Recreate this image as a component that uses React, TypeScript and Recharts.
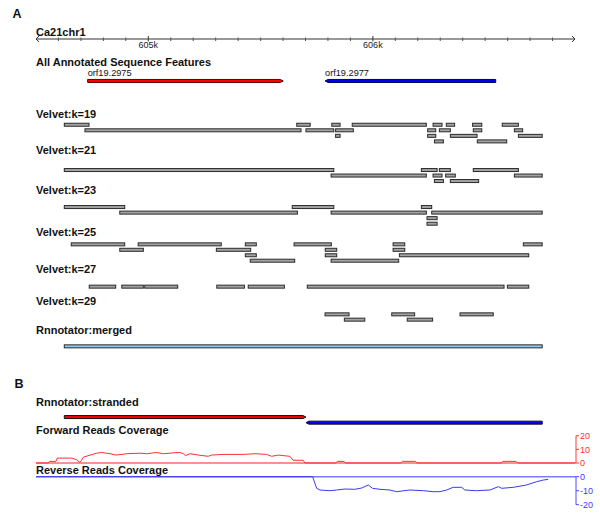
import React from 'react';
import { ComposedChart, Bar, XAxis, YAxis, LineChart, Line, ReferenceLine } from 'recharts';

// ---------- data ----------
const DOMAIN_START = 604500;
const DOMAIN_END = 606900;
const COV_DOMAIN_END = 606905;

const rulerTicks = [
  604500, 604600, 604700, 604800, 604900, 605000, 605100, 605200, 605300, 605400, 605500,
  605600, 605700, 605800, 605900, 606000, 606100, 606200, 606300, 606400, 606500, 606600,
  606700, 606800, 606900,
];
const rulerLabels: Record<number, string> = { 605000: '605k', 606000: '606k' };

const genes = [
  { name: 'orf19.2975', strand: '+', start: 604730, end: 605601 },
  { name: 'orf19.2977', strand: '-', start: 605787, end: 606547 },
];

// [lane, start, end]
const velvetK19 = [
  [0, 604626, 604736], [0, 605661, 605721], [0, 605817, 605854], [0, 605908, 606238],
  [0, 606268, 606308], [0, 606327, 606364], [0, 606444, 606485], [0, 606576, 606648],
  [1, 604718, 605680], [1, 605702, 605826], [1, 605834, 605913], [1, 606244, 606280],
  [1, 606296, 606345], [1, 606447, 606485], [1, 606630, 606667],
  [2, 605834, 605854], [2, 606244, 606280], [2, 606345, 606464], [2, 606648, 606754],
  [3, 606274, 606314], [3, 606465, 606596],
];
const velvetK21 = [
  [0, 604626, 605826], [0, 606216, 606286], [0, 606296, 606345], [0, 606447, 606648],
  [1, 605814, 606238], [1, 606268, 606308], [1, 606324, 606367], [1, 606630, 606754],
  [2, 606274, 606314], [2, 606345, 606471],
];
const velvetK23 = [
  [0, 604626, 604895], [0, 605641, 605826], [0, 606216, 606262],
  [1, 604873, 605664], [1, 605814, 606238], [1, 606262, 606754],
  [2, 606241, 606286], [3, 606241, 606286],
];
const velvetK25 = [
  [0, 604657, 604895], [0, 604955, 605325], [0, 605432, 605481], [0, 605649, 605815],
  [0, 606090, 606142], [0, 606670, 606754],
  [1, 604873, 604978], [1, 605303, 605456], [1, 605788, 605839], [1, 606090, 606142],
  [2, 605432, 605481], [2, 605788, 605839], [2, 606118, 606694],
  [3, 605454, 605652], [3, 605814, 606115],
];
const velvetK27 = [
  [0, 604737, 604855], [0, 604882, 604978], [0, 604984, 605131], [0, 605305, 605428],
  [0, 605445, 605606], [0, 605708, 606584], [0, 606599, 606694],
];
const velvetK29 = [
  [0, 605787, 605894], [0, 606084, 606186], [0, 606388, 606536],
  [1, 605873, 605964], [1, 606153, 606266],
];
const rnnotatorMerged = [[0, 604626, 606754]];
const rnnotatorStranded = [
  { strand: '+', start: 604626, end: 605702 },
  { strand: '-', start: 605702, end: 606754 },
];

// [position, coverage]
const forwardCoverage = [
  [604500, 0], [604555, 0], [604560, 1.2], [604589, 1.2], [604595, 3.6], [604659, 3.6],
  [604681, 2.4], [604696, 0.3], [604711, 4.3], [604770, 7.2], [604793, 7.7], [604830, 6.8],
  [604856, 5.8], [604904, 6.8], [604963, 7.2], [604993, 6.8], [605037, 7.7], [605067, 6.8],
  [605097, 7.2], [605111, 7.5], [605141, 7.7], [605156, 6.8], [605166, 5.4], [605186, 6.8],
  [605223, 5.8], [605267, 4.9], [605282, 5.8], [605333, 6.3], [605422, 6.3], [605475, 6.8],
  [605527, 6.3], [605549, 4.9], [605579, 5.8], [605631, 4.9], [605645, 2.0], [605690, 2.0],
  [605698, 0], [605835, 0], [605842, 1.2], [605872, 1.2], [605878, 0], [606124, 0],
  [606132, 1.2], [606190, 1.2], [606197, 0], [606572, 0], [606580, 1.2], [606638, 1.2],
  [606645, 0], [606900, 0],
];
const reverseCoverage = [
  [604500, 0], [605732, 0], [605750, -8.3], [605765, -9.5], [605809, -10], [605839, -9.5],
  [605876, -8.8], [605920, -9.0], [605950, -8.1], [605980, -5.9], [605999, -8.3], [606032, -9.0],
  [606076, -9.5], [606106, -10.7], [606165, -9.5], [606225, -10], [606269, -10.7], [606299, -10.7],
  [606329, -9.5], [606358, -7.6], [606396, -7.6], [606410, -9.5], [606462, -10], [606522, -9.5],
  [606559, -7.1], [606574, -8.3], [606625, -7.6], [606685, -5.9], [606729, -3.6], [606759, -2.4],
  [606781, -1.9],
];

// ---------- layout (pixel rows of the tracks) ----------
const FONT = '"Liberation Sans", Arial, Helvetica, sans-serif';
const TRACKS = [
  { label: 'All Annotated Sequence Features', labelY: 66, laneY: 80.6, gap: 0 },
  { label: 'Velvet:k=19', labelY: 118.3, laneY: 124.4, gap: 5.55 },
  { label: 'Velvet:k=21', labelY: 154, laneY: 169.7, gap: 5.5 },
  { label: 'Velvet:k=23', labelY: 194, laneY: 206.7, gap: 5.55 },
  { label: 'Velvet:k=25', labelY: 236, laneY: 244.0, gap: 5.45 },
  { label: 'Velvet:k=27', labelY: 273.3, laneY: 286.3, gap: 5.5 },
  { label: 'Velvet:k=29', labelY: 305, laneY: 314.0, gap: 5.3 },
  { label: 'Rnnotator:merged', labelY: 334, laneY: 346.0, gap: 0 },
  { label: 'Rnnotator:stranded', labelY: 405.7, laneY: 416.7, gap: 5.6 },
];
const OTHER_LABELS = [
  { text: 'Ca21chr1', y: 35.5 },
  { text: 'Forward Reads Coverage', y: 434.3 },
  { text: 'Reverse Reads Coverage', y: 474.3 },
];

type Row = { y: number; range: [number, number]; kind: string; strand?: string; name?: string };

const rows: Row[] = [];
genes.forEach((g) =>
  rows.push({ y: TRACKS[0].laneY, range: [g.start, g.end], kind: 'gene', strand: g.strand, name: g.name })
);
[velvetK19, velvetK21, velvetK23, velvetK25, velvetK27, velvetK29].forEach((list, i) => {
  const t = TRACKS[i + 1];
  list.forEach(([lane, s, e]) => rows.push({ y: t.laneY + lane * t.gap, range: [s, e], kind: 'velvet' }));
});
rnnotatorMerged.forEach(([lane, s, e]) =>
  rows.push({ y: TRACKS[7].laneY + lane * TRACKS[7].gap, range: [s, e], kind: 'merged' })
);
rnnotatorStranded.forEach((f, i) =>
  rows.push({ y: TRACKS[8].laneY + i * TRACKS[8].gap, range: [f.start, f.end], kind: 'stranded', strand: f.strand })
);

const fwdData = forwardCoverage.map(([pos, v]) => ({ pos, v }));
const revData = reverseCoverage.map(([pos, v]) => ({ pos, v }));

// ---------- shapes ----------
const FeatureShape = (props: any) => {
  const { x, y, width, height, payload } = props;
  if (width == null || !payload) return null;
  const top = y + 0.5;
  const h = height - 1;
  const kind = payload.kind;
  if (kind === 'velvet' || kind === 'merged') {
    return (
      <rect
        x={x}
        y={top}
        width={width}
        height={h}
        fill={kind === 'velvet' ? '#a3a3a3' : '#8ccaf2'}
        stroke="#2a2a2a"
        strokeWidth={1}
      />
    );
  }
  const a = 3;
  const plus = payload.strand === '+';
  const fill = plus ? '#ff0000' : '#0000f0';
  const stroke = kind === 'gene' ? (plus ? '#5a0000' : '#00005a') : '#111';
  const pts = plus
    ? `${x},${top} ${x + width - a},${top} ${x + width},${top + h / 2} ${x + width - a},${top + h} ${x},${top + h}`
    : `${x + a},${top} ${x + width},${top} ${x + width},${top + h} ${x + a},${top + h} ${x},${top + h / 2}`;
  return (
    <g>
      <polygon points={pts} fill={fill} stroke={stroke} strokeWidth={1} />
      {payload.name ? (
        <text x={x} y={top - 3.5} fontSize={9.2} fontFamily={FONT} fill="#111">
          {payload.name}
        </text>
      ) : null}
    </g>
  );
};

const RulerTick = (props: any) => {
  const { x, y, payload } = props;
  const v = payload.value;
  const c = '#333';
  if (v === DOMAIN_START) {
    return <path d={`M${x + 3},${y - 3} L${x},${y} L${x + 3},${y + 3}`} stroke={c} fill="none" strokeWidth={1} />;
  }
  if (v === DOMAIN_END) {
    return <path d={`M${x - 3},${y - 3} L${x},${y} L${x - 3},${y + 3}`} stroke={c} fill="none" strokeWidth={1} />;
  }
  const label = rulerLabels[v];
  if (label) {
    return (
      <g>
        <line x1={x} x2={x} y1={y - 3} y2={y + 2.5} stroke={c} strokeWidth={1} />
        <text x={x} y={y + 9} fontSize={9} fontFamily={FONT} textAnchor="middle" fill="#222">
          {label}
        </text>
      </g>
    );
  }
  return <line x1={x} x2={x} y1={y - 1.5} y2={y + 2} stroke="#555" strokeWidth={1} />;
};

const labelStyle = { fontFamily: FONT, fontWeight: 700, fontSize: 11, fill: '#111' } as const;

export default function App() {
  return (
    <div style={{ position: 'absolute', left: 0, top: 0, width: 600, height: 519, background: '#fff' }}>
      <div style={{ position: 'absolute', left: 0, top: 0 }}>
        <ComposedChart
          layout="vertical"
          width={600}
          height={519}
          data={rows}
          margin={{ top: 0, right: 25, bottom: 0, left: 36 }}
        >
          <XAxis
            type="number"
            orientation="top"
            domain={[DOMAIN_START, DOMAIN_END]}
            ticks={rulerTicks}
            interval={0}
            height={39}
            tickSize={0}
            tickMargin={0}
            tickLine={false}
            tick={<RulerTick />}
            axisLine={{ stroke: '#333' }}
            allowDataOverflow
          />
          <YAxis type="number" dataKey="y" domain={[39, 519]} hide allowDataOverflow />
          <Bar dataKey="range" barSize={4} isAnimationActive={false} shape={(p: any) => <FeatureShape {...p} />} />
        </ComposedChart>
      </div>

      <div style={{ position: 'absolute', left: 0, top: 420 }}>
        <LineChart width={600} height={60} data={fwdData} margin={{ top: 15.7, right: 0, bottom: 17, left: 36 }}>
          <XAxis type="number" dataKey="pos" domain={[DOMAIN_START, COV_DOMAIN_END]} hide allowDataOverflow />
          <YAxis
            orientation="right"
            type="number"
            domain={[0, 20]}
            ticks={[0, 10, 20]}
            interval={0}
            width={24}
            tickSize={3}
            tickMargin={1}
            stroke="#ff3a3a"
            tick={{ fontSize: 9, fill: '#ff3030', fontFamily: FONT }}
            axisLine={{ stroke: '#ff3a3a' }}
            tickLine={{ stroke: '#ff3a3a' }}
          />
          <ReferenceLine y={0} stroke="#ff9090" strokeWidth={2} ifOverflow="extendDomain" />
          <Line dataKey="v" type="linear" stroke="#ff3030" strokeWidth={1} dot={false} isAnimationActive={false} />
        </LineChart>
      </div>

      <div style={{ position: 'absolute', left: 0, top: 470 }}>
        <LineChart width={600} height={45} data={revData} margin={{ top: 6.7, right: 0, bottom: 10.3, left: 36 }}>
          <XAxis type="number" dataKey="pos" domain={[DOMAIN_START, COV_DOMAIN_END]} hide allowDataOverflow />
          <YAxis
            orientation="right"
            type="number"
            domain={[-20, 0]}
            ticks={[-20, -10, 0]}
            interval={0}
            width={24}
            tickSize={3}
            tickMargin={1}
            stroke="#4a4aff"
            tick={{ fontSize: 9, fill: '#3a3aff', fontFamily: FONT }}
            axisLine={{ stroke: '#4a4aff' }}
            tickLine={{ stroke: '#4a4aff' }}
          />
          <ReferenceLine y={0} stroke="#7a7aff" strokeWidth={1.5} ifOverflow="extendDomain" />
          <Line dataKey="v" type="linear" stroke="#3a3aee" strokeWidth={1} dot={false} isAnimationActive={false} />
        </LineChart>
      </div>

      <svg
        width={600}
        height={519}
        style={{ position: 'absolute', left: 0, top: 0, pointerEvents: 'none' }}
      >
        <text x={12.5} y={17.5} fontFamily={FONT} fontWeight={700} fontSize={12.5} fill="#111">
          A
        </text>
        <text x={14.5} y={388.3} fontFamily={FONT} fontWeight={700} fontSize={12.5} fill="#111">
          B
        </text>
        {OTHER_LABELS.map((l) => (
          <text key={l.text} x={36} y={l.y} {...labelStyle}>
            {l.text}
          </text>
        ))}
        {TRACKS.map((t) => (
          <text key={t.label} x={36} y={t.labelY} {...labelStyle}>
            {t.label}
          </text>
        ))}
      </svg>
    </div>
  );
}
